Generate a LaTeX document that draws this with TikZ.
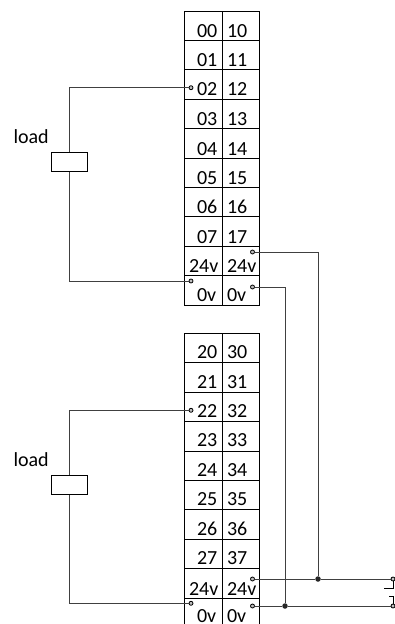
\documentclass[tikz,border=0pt]{standalone}
\usepackage{fontspec}
\setmainfont{Carlito}
\usetikzlibrary{positioning}
\tikzset{
    cell/.style={draw,minimum width=37.5pt,minimum height=29.4pt,inner sep=0pt,outer sep=0pt},
    txt/.style={font=\fontsize{20}{20}\selectfont,anchor=base west,inner sep=0pt},
    term/.style={circle,draw,fill=gray!50,minimum size=4pt,inner sep=0pt,line width=0.8pt},
    junc/.style={circle,fill=black!85,minimum size=5.5pt,inner sep=0pt},
    loadbox/.style={draw,fill=white,minimum width=36pt,minimum height=19pt,inner sep=0pt},
    wire/.style={line width=1pt,black!75}
}
\begin{document}
\begin{tikzpicture}[x=1pt,y=-1pt,line width=1pt]
    \useasboundingbox (0,0) rectangle (395,624);

    \begin{scope}
    \clip (0,0) rectangle (395,624);

    %draw upper block
    \foreach \n/\a/\b/\ax/\by in {0/00/10/196.5/37.3,1/01/11/196.5/66.7,2/02/12/196.5/95.5,3/03/13/196.5/125,4/04/14/196.5/155,5/05/15/196.5/184.5,6/06/16/196.5/213.5,7/07/17/196.5/243,8/24v/24v/188.5/272.5,9/0v/0v/196.5/301.5}{
        \node[cell] (ul\n) at (203.5,25.7+29.4*\n) {};
        \node[cell] (ur\n) at (241,25.7+29.4*\n) {};
        \node[txt] (ula\n) at (\ax,\by) {\a};
        \node[txt] (ura\n) at (226.5,\by) {\b};
    }

    %draw lower block
    \foreach \n/\a/\b/\ax/\by in {0/20/30/196.5/358.5,1/21/31/196.5/388,2/22/32/196.5/417,3/23/33/196.5/446.5,4/24/34/196.5/476,5/25/35/196.5/505.5,6/26/36/196.5/535,7/27/37/196.5/564.5,8/24v/24v/188.5/595.5,9/0v/0v/196.5/622}{
        \node[cell] (ll\n) at (203.5,348.2+29.4*\n) {};
        \node[cell] (lr\n) at (241,348.2+29.4*\n) {};
        \node[txt] (lla\n) at (\ax,\by) {\a};
        \node[txt] (lra\n) at (226.5,\by) {\b};
    }
    \end{scope}

    %draw terminals
    \node[term] (t02) at (191,87.7) {};
    \node[term] (t0v) at (191,281) {};
    \node[term] (t24r) at (252.5,252) {};
    \node[term] (t0r) at (252.5,287) {};
    \node[term] (t22) at (191,410.3) {};
    \node[term] (t2v) at (191,603.3) {};
    \node[term] (t224r) at (252.5,579) {};
    \node[term] (t20r) at (252.5,606) {};
    \node[term] (s1) at (393,579) {};
    \node[term] (s2) at (393,606) {};

    %draw junctions
    \node[junc] (j1) at (318,579) {};
    \node[junc] (j2) at (285,606) {};

    %draw loads
    \node[loadbox] (load1) at (69.8,162.2) {};
    \node[loadbox] (load2) at (69.8,484.8) {};
    \node[txt] (lab1) at (13,143.3) {load};
    \node[txt] (lab2) at (13,466.5) {load};

    %draw wires
    \draw[wire] (t02) -| (load1);
    \draw[wire] (t0v) -| (load1);
    \draw[wire] (t22) -| (load2);
    \draw[wire] (t2v) -| (load2);
    \draw[wire] (t24r) -| (j1);
    \draw[wire] (t0r) -| (j2);
    \draw[wire] (t224r) -- (j1) -- (s1);
    \draw[wire] (t20r) -- (j2) -- (s2);

    %draw switch
    \coordinate (c1) at (393,588);
    \coordinate (c2) at (384,588);
    \coordinate (c3) at (393,596);
    \coordinate (c4) at (389,596);
    \draw (s1) -- (c1) -- (c2);
    \draw (s2) -- (c3) -- (c4);
\end{tikzpicture}
\end{document}
